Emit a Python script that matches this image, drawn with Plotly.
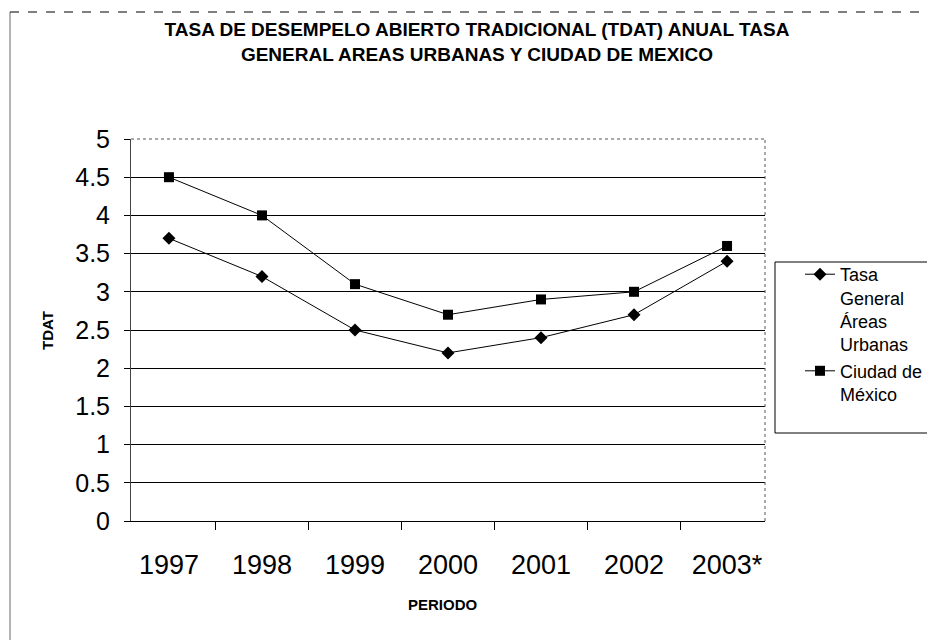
import plotly.graph_objects as go

years = ["1997", "1998", "1999", "2000", "2001", "2002", "2003*"]
tasa_general = [3.7, 3.2, 2.5, 2.2, 2.4, 2.7, 3.4]
ciudad_mexico = [4.5, 4.0, 3.1, 2.7, 2.9, 3.0, 3.6]
y_ticks = [0, 0.5, 1, 1.5, 2, 2.5, 3, 3.5, 4, 4.5, 5]
y_tick_text = ["0", "0.5", "1", "1.5", "2", "2.5", "3", "3.5", "4", "4.5", "5"]

W, H = 935, 640
OFF = 8  # page offset of the figure
L, R, T, B = 131, 765, 139, 521  # plot area in page pixels


def px_x(x):
    return (x - L) / (R - L)


def px_y(y):
    return (B - y) / (B - T)


fig = go.Figure()
fig.add_trace(go.Scatter(
    x=years, y=tasa_general, mode="lines+markers",
    name="Tasa<br>General<br>Áreas<br>Urbanas",
    line=dict(color="black", width=1),
    marker=dict(symbol="diamond", size=10, color="black"),
))
fig.add_trace(go.Scatter(
    x=years, y=ciudad_mexico, mode="lines+markers",
    name="Ciudad de<br>México",
    line=dict(color="black", width=1),
    marker=dict(symbol="square", size=10, color="black"),
))

shapes = [
    # outer chart border (left and top)
    dict(type="line", xref="paper", yref="paper", x0=px_x(10), x1=px_x(10),
         y0=px_y(H + OFF), y1=px_y(12), line=dict(color="#666", width=1)),
    dict(type="line", xref="paper", yref="paper", x0=px_x(10), x1=px_x(W + OFF),
         y0=px_y(12), y1=px_y(12), line=dict(color="black", width=1, dash="dash")),
    # hide top gridline, dotted top/right borders
    dict(type="line", xref="paper", yref="paper", x0=0, x1=1, y0=1, y1=1,
         line=dict(color="white", width=2)),
    dict(type="line", xref="paper", yref="paper", x0=0, x1=1, y0=1, y1=1,
         line=dict(color="#555", width=1, dash="dot")),
    dict(type="line", xref="paper", yref="paper", x0=1, x1=1, y0=0, y1=1,
         line=dict(color="#555", width=1, dash="dot")),
    # legend box
    dict(type="rect", xref="paper", yref="paper", x0=px_x(775), x1=px_x(932),
         y0=px_y(433), y1=px_y(262), line=dict(color="black", width=1)),
]

annotations = [
    dict(text="<b>TDAT</b>", xref="paper", yref="paper", x=px_x(47), y=px_y(331),
         xanchor="center", yanchor="middle", textangle=-90, showarrow=False,
         font=dict(size=15)),
    dict(text="<b>PERIODO</b>", xref="paper", yref="paper", x=px_x(443), y=px_y(604),
         xanchor="center", yanchor="middle", showarrow=False,
         font=dict(size=15)),
]

fig.update_layout(
    width=W, height=H,
    margin=dict(l=L - OFF, r=W - R + OFF, t=T - OFF, b=H - B + OFF),
    paper_bgcolor="white", plot_bgcolor="white",
    font=dict(family="Liberation Sans, Arial, sans-serif", color="black"),
    title=dict(
        text="<b>TASA DE DESEMPELO ABIERTO TRADICIONAL (TDAT) ANUAL TASA<br>GENERAL AREAS URBANAS Y CIUDAD DE MEXICO</b>",
        x=(477 - OFF) / W, xanchor="center", y=1 - (36 - OFF) / H, yanchor="top",
        font=dict(size=19, family="Liberation Sans, Arial, sans-serif"),
    ),
    xaxis=dict(
        showgrid=False, showline=True, linecolor="black", linewidth=1,
        ticks="outside", tickson="boundaries", ticklen=8, tickcolor="black",
        tickfont=dict(size=27), ticklabelstandoff=20,
    ),
    yaxis=dict(
        range=[0, 5], tickvals=y_ticks, ticktext=y_tick_text,
        showgrid=True, gridcolor="black", gridwidth=1,
        showline=True, linecolor="#444", linewidth=1,
        ticks="outside", ticklen=6, tickcolor="black",
        tickfont=dict(size=25), zeroline=False, ticklabelstandoff=9,
    ),
    legend=dict(
        x=px_x(800), y=px_y(256), xanchor="left", yanchor="top",
        bgcolor="rgba(0,0,0,0)", borderwidth=0, valign="top",
        font=dict(size=18), itemwidth=30, tracegroupgap=0,
    ),
    shapes=shapes,
    annotations=annotations,
    showlegend=True,
)

fig.write_html("out.html")
